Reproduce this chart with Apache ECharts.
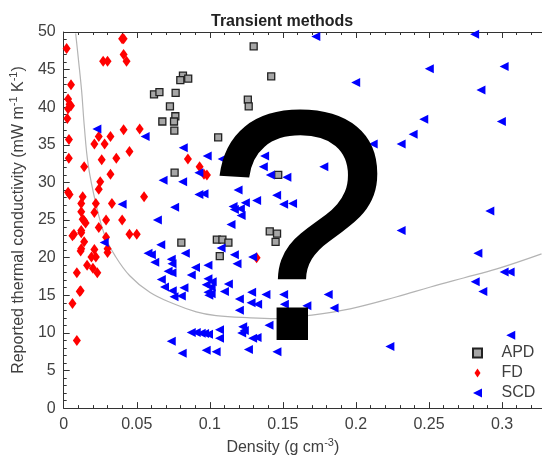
<!DOCTYPE html>
<html>
<head>
<meta charset="utf-8">
<script src="https://cdn.jsdelivr.net/npm/echarts@6/dist/echarts.min.js"></script>
<style>
  html, body { margin: 0; padding: 0; background: #fff; }
  #main { width: 542px; height: 461px; }
</style>
</head>
<body>
<div id="main"></div>
<script>
// 数据：APD / FD / SCD 三组散点 + 灰色趋势线
var apdX = [0.0618,0.0655,0.0766,0.0816,0.0798,0.0852,0.0727,0.0764,0.0755,0.0675,0.0757,0.0759,0.1057,0.130,0.142,0.126,0.1266,0.1468,0.141,0.146,0.145,0.1048,0.1086,0.1127,0.1068,0.0805];
var apdY = [41.7,42.0,41.9,44.2,43.6,43.8,40.1,38.8,38.1,38.1,36.9,31.3,36.0,48.1,44.1,41.0,40.1,31.0,23.5,23.2,22.1,22.4,22.4,22.0,20.2,22.0];

var fdX = [0.002,0.040,0.041,0.027,0.030,0.041,0.043,0.005,0.003,0.004,0.005,0.003,0.0025,0.0036,0.0035,0.014,0.041,0.024,0.032,0.021,0.028,0.045,0.026,0.036,0.032,0.052,0.085,0.093,0.096,0.098,0.055,0.025,0.024,0.003,0.004,0.013,0.012,0.012,0.022,0.021,0.033,0.040,0.029,0.013,0.014,0.015,0.024,0.006,0.007,0.012,0.012,0.014,0.029,0.030,0.030,0.012,0.0116,0.021,0.019,0.022,0.016,0.020,0.023,0.009,0.0116,0.011,0.006,0.009,0.045,0.050,0.132];
var fdY = [47.8,49.1,49.1,46.1,46.1,47.0,46.1,43.0,41.1,40.4,40.2,39.8,38.5,35.7,33.2,32.1,37.0,36.1,36.1,35.1,35.1,34.1,33.0,33.2,31.1,37.1,33.1,32.1,31.1,31.0,28.1,30.1,29.1,28.7,28.4,28.1,27.2,26.1,27.2,26.0,27.2,25.0,25.0,25.1,24.9,24.6,24.0,22.9,23.1,23.6,23.3,22.1,22.7,21.2,20.7,21.2,20.9,21.1,20.1,20.1,19.0,18.6,18.0,18.0,15.6,15.5,13.9,9.0,23.1,23.1,20.0];

var scdX = [0.0227,0.0557,0.0818,0.0982,0.0925,0.068,0.0814,0.0925,0.096,0.040,
  0.0759,0.0641,0.1725,0.1084,0.1375,0.1366,0.1414,0.1527,0.178,0.1193,
  0.1457,0.1505,0.1566,0.132,0.1243,0.1159,0.1168,0.1209,0.1214,0.1145,
  0.1077,0.1168,0.1186,0.0987,0.1293,0.0277,0.0664,0.0832,0.0577,0.060,
  0.0623,0.0736,0.0741,0.0714,0.0741,0.0902,0.0873,0.0668,0.069,0.0743,
  0.0755,0.0805,0.0823,0.0987,0.1016,0.0975,0.1009,0.0987,0.1009,0.1127,
  0.110,0.1202,0.1202,0.1286,0.1282,0.1327,0.1384,0.1505,0.181,0.185,
  0.151,0.1664,0.1405,0.1225,0.1236,0.1218,0.1066,0.0873,0.0907,0.0941,
  0.0964,0.0991,0.1066,0.0736,0.0811,0.0975,0.1043,0.1264,0.1293,0.1323,
  0.1459,0.2812,0.2502,0.3014,0.1998,0.2855,0.2464,0.2995,0.2391,0.2118,
  0.2309,0.2916,0.2309,0.2834,0.3014,0.3055,0.2816,0.2868,0.3059,0.2232,
  0.0993];
var scdY = [37.1,36.1,34.6,33.5,31.3,30.3,30.1,28.4,28.5,27.1,
  26.7,25.0,49.4,33.1,33.5,32.1,31.0,30.7,32.1,29.0,
  28.3,27.1,27.2,27.6,27.3,26.8,26.4,26.5,25.6,24.4,
  21.3,20.4,19.2,19.0,20.1,22.0,21.7,20.6,20.6,20.4,
  19.4,19.8,19.2,18.2,18.0,18.7,17.7,17.1,16.1,15.6,
  14.8,14.9,16.0,17.2,16.8,16.4,16.1,15.4,15.2,16.5,
  15.5,14.5,13.0,15.4,14.0,13.8,15.1,15.1,15.1,13.3,
  13.8,13.6,11.0,10.8,10.3,10.0,10.4,10.05,10.05,9.96,
  9.92,9.83,9.3,8.9,7.3,7.7,7.5,7.8,9.3,9.4,
  7.5,49.7,45.1,45.4,43.3,42.3,38.4,38.1,36.4,35.1,
  35.1,26.2,23.6,20.6,18.1,18.1,16.8,15.5,9.7,8.2,
  15.0];

// 灰色曲线（从图上读取的点）
var curveX = [0.0082,0.010,0.0123,0.014,0.0168,0.022,0.0282,0.035,0.0452,0.0589,0.0748,0.0907,0.1043,0.128,0.145,0.167,0.196,0.228,0.251,0.2736,0.2964,0.327];
var curveY = [49.8,46.5,42.1,37.7,32.3,27.2,22.9,20.3,17.6,15.4,13.9,12.8,12.3,12.0,11.9,12.3,13.2,14.8,16.1,17.3,18.5,20.5];

var xTicks = { min: 0, max: 0.3273, interval: 0.05 };
var yTicks = { min: 0, max: 50, interval: 5 };

function zip(xs, ys){
    var out = [];
    for (var i = 0; i < xs.length; i++) out.push([xs[i], ys[i]]);
    return out;
}

var myChart = echarts.init(document.getElementById('main'));
var labelColor = '#404040';
var axisColor = '#333';

var option = {
    animation: false,
    backgroundColor: '#fff',
    textStyle: { fontFamily: 'Liberation Sans, Arial, sans-serif' },
    title: {
        text: 'Transient methods',
        left: 206,
        top: 9,
        textStyle: { fontSize: 16, fontWeight: 'bold', color: '#222' }
    },
    legend: {
        orient: 'vertical',
        left: 467,
        top: 340,
        itemWidth: 22,
        itemHeight: 9,
        itemGap: 4,
        data: [
            { name: 'APD', icon: 'path://M0,0L8,0L8,8L0,8Z' },
            { name: 'FD', icon: 'path://M4,0L8,6L4,12L0,6Z' },
            { name: 'SCD', icon: 'path://M10,0L10,10L0,5Z' }
        ],
        textStyle: { fontSize: 16, color: labelColor, padding: [0, 0, 0, 8] }
    },
    grid: { left: 62, right: 0, top: 32, bottom: 51 },
    xAxis: [{
        type: 'value',
        min: xTicks.min, max: xTicks.max, interval: xTicks.interval,
        position: 'bottom',
        name: '{n|Density (g cm}{s|-3}{n|)}',
        nameLocation: 'middle',
        nameGap: 27,
        nameTextStyle: {
            padding: [0, 40, 0, 0],
            rich: {
                n: { fontSize: 16, color: labelColor, lineHeight: 22 },
                s: { fontSize: 11, color: labelColor, verticalAlign: 'top', lineHeight: 22 }
            }
        },
        axisLine: { lineStyle: { color: axisColor } },
        axisTick: { inside: true, length: 6, lineStyle: { color: axisColor } },
        minorTick: { show: true, splitNumber: 5, length: 3, lineStyle: { color: axisColor } },
        splitLine: { show: false },
        axisLabel: { fontSize: 16, color: labelColor, margin: 8, showMaxLabel: false }
    }, {
        type: 'value',
        min: xTicks.min, max: xTicks.max, interval: xTicks.interval,
        position: 'top',
        axisLine: { lineStyle: { color: axisColor } },
        axisTick: { inside: true, length: 6, lineStyle: { color: axisColor } },
        minorTick: { show: true, splitNumber: 5, length: 3, lineStyle: { color: axisColor } },
        splitLine: { show: false },
        axisLabel: { show: false }
    }],
    yAxis: [{
        type: 'value',
        min: yTicks.min, max: yTicks.max, interval: yTicks.interval,
        name: '{n|Reported thermal conductivity (mW m}{s|-1}{n| K}{s|-1}{n|)}',
        nameLocation: 'middle',
        nameGap: 30,
        nameTextStyle: {
            rich: {
                n: { fontSize: 16, color: labelColor, lineHeight: 22 },
                s: { fontSize: 11, color: labelColor, verticalAlign: 'top', lineHeight: 22 }
            }
        },
        axisLine: { show: true, lineStyle: { color: axisColor } },
        axisTick: { inside: true, length: 6, lineStyle: { color: axisColor } },
        minorTick: { show: true, splitNumber: 5, length: 3, lineStyle: { color: axisColor } },
        splitLine: { show: false },
        axisLabel: { fontSize: 16, color: labelColor, margin: 8 }
    }],
    graphic: [{
        type: 'text',
        left: 206,
        top: 84,
        z: 100,
        style: {
            text: '?',
            font: 'normal 330px "Liberation Sans"',
            fill: '#000'
        }
    }],
    series: [
        {
            name: 'curve',
            type: 'line',
            data: zip(curveX, curveY),
            smooth: 0.4,
            showSymbol: false,
            silent: true,
            lineStyle: { color: '#b4b4b4', width: 1.2 },
            z: 1
        },
        {
            name: 'APD',
            type: 'scatter',
            symbol: 'rect',
            symbolSize: 7,
            data: zip(apdX, apdY),
            itemStyle: { color: '#a6a6a6', borderColor: '#222', borderWidth: 1.3, opacity: 1 },
            z: 2
        },
        {
            name: 'FD',
            type: 'scatter',
            symbol: 'diamond',
            symbolSize: [8, 11],
            data: zip(fdX, fdY),
            itemStyle: { color: '#ff0000', opacity: 1 },
            z: 3
        },
        {
            name: 'SCD',
            type: 'scatter',
            symbol: 'triangle',
            symbolRotate: 90,
            symbolSize: 9,
            data: zip(scdX, scdY),
            itemStyle: { color: '#0000ff', opacity: 1 },
            z: 4
        }
    ]
};

myChart.setOption(option);
</script>
</body>
</html>
